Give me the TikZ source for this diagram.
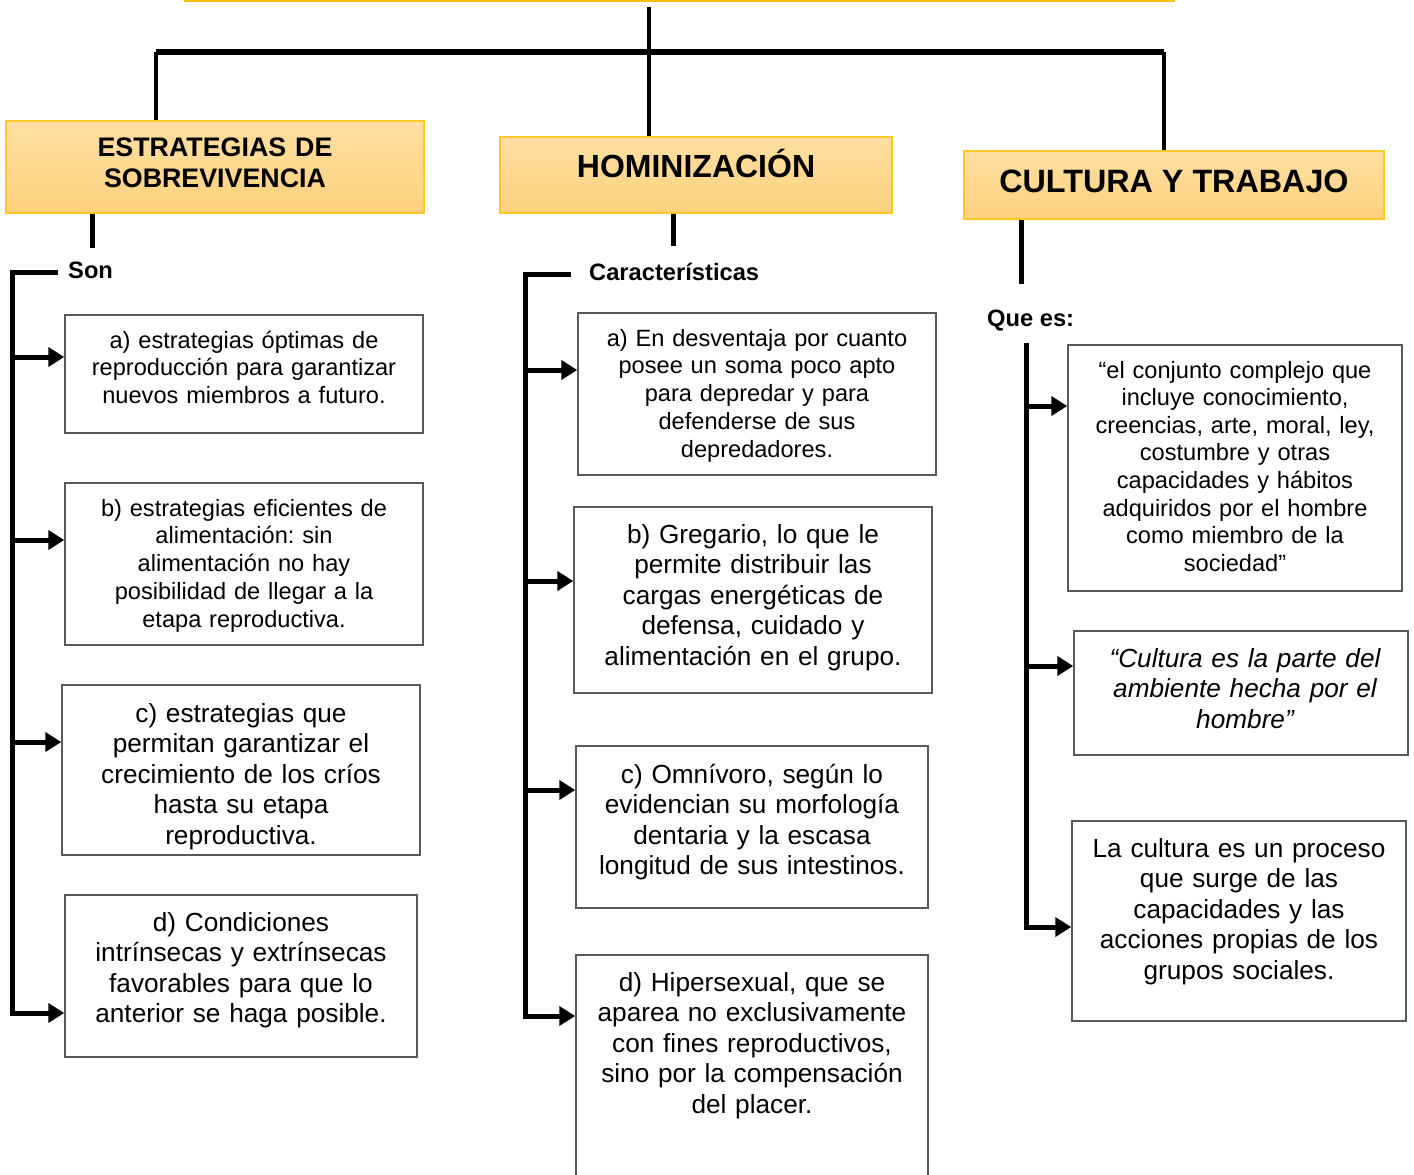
\documentclass[tikz,border=0pt]{standalone}
\usepackage{fontspec}
\setmainfont{Liberation Sans}
\usetikzlibrary{arrows.meta}
\frenchspacing
\definecolor{hdrtop}{HTML}{FEDFA2}
\definecolor{hdrbot}{HTML}{FCD17D}
\definecolor{hdrline}{HTML}{FFC828}
\definecolor{boxline}{HTML}{595959}
\definecolor{topline}{HTML}{FFC000}
\newcommand\fsz[2]{\fontsize{#1}{#2}\selectfont}
\tikzset{
  hdr/.style={rectangle, draw=hdrline, line width=1.5pt, top color=hdrtop, bottom color=hdrbot, inner sep=0pt},
  hdrtxt/.style={anchor=base, align=center, inner sep=0pt},
  cbox/.style={rectangle, draw=boxline, line width=1.5pt, inner sep=0pt},
  ctxt/.style={anchor=base, align=center, inner sep=0pt},
  small/.style={font=\fsz{23.6}{27.8}},
  big/.style={font=\fsz{26.2}{30.5}},
  thickbar/.style={line width=5pt, black},
  arr/.style={line width=5pt, black, -{Triangle[length=16pt,width=19pt]}},
  lbl/.style={anchor=base west, inner sep=0pt, font=\bfseries\fsz{23.7}{26}}
}
\begin{document}
\begin{tikzpicture}[x=1pt,y=-1pt]
\useasboundingbox (0,0) rectangle (1414,1175);
\draw[topline, line width=2pt] (184,1) -- (1175,1);

% headers
\node[hdr, minimum width=418pt, minimum height=92pt] (h1) at (215,167) {};
\node[hdrtxt, text width=410pt, font=\bfseries\fsz{26.8}{31}] (h1t) at (215,156) {ESTRATEGIAS DE\\SOBREVIVENCIA};
\node[hdr, minimum width=392pt, minimum height=76pt] (h2) at (696,175) {};
\node[hdrtxt, font=\bfseries\fsz{32}{36}] (h2t) at (696,177) {HOMINIZACIÓN};
\node[hdr, minimum width=420pt, minimum height=68pt] (h3) at (1174,185) {};
\node[hdrtxt, font=\bfseries\fsz{32.3}{36}] (h3t) at (1174,192) {CULTURA Y TRABAJO};

% top connectors
\coordinate (root) at (649,7);
\coordinate (barL) at (156,52);
\coordinate (barR) at (1164,52);
\draw[line width=4pt] (root) -- (h2.north -| root);
\draw[line width=6pt] (barL) -- (barR);
\draw[line width=4pt] (barL) -- (barL |- h1.north);
\draw[line width=4pt] (barR) -- (barR |- h3.north);

% stubs under headers
\coordinate (s1) at (92,248);
\coordinate (s2) at (673,246);
\coordinate (s3) at (1021,284);
\draw[line width=5pt] (s1 |- h1.south) -- (s1);
\draw[line width=5pt] (s2 |- h2.south) -- (s2);
\draw[line width=5pt] (s3 |- h3.south) -- (s3);

% labels
\node[lbl] (son) at (68,278) {Son};
\node[lbl] (car) at (589,280) {Características};
\node[lbl] (que) at (987,326) {Que es:};

% left boxes
\node[cbox, minimum width=358pt, minimum height=118pt] (la) at (244,374) {};
\node[ctxt, small, text width=354pt] (lat) at (244,348) {a) estrategias óptimas de\\reproducción para garantizar\\nuevos miembros a futuro.};
\node[cbox, minimum width=358pt, minimum height=162pt] (lb) at (244,564) {};
\node[ctxt, small, text width=354pt] (lbt) at (244,516) {b) estrategias eficientes de\\alimentación: sin\\alimentación no hay\\posibilidad de llegar a la\\etapa reproductiva.};
\node[cbox, minimum width=358pt, minimum height=170pt] (lc) at (241,770) {};
\node[ctxt, big, text width=354pt] (lct) at (241,722) {c) estrategias que\\permitan garantizar el\\crecimiento de los críos\\hasta su etapa\\reproductiva.};
\node[cbox, minimum width=352pt, minimum height=162pt] (ld) at (241,976) {};
\node[ctxt, big, text width=348pt] (ldt) at (241,931) {d) Condiciones\\intrínsecas y extrínsecas\\favorables para que lo\\anterior se haga posible.};

% middle boxes
\node[cbox, minimum width=358pt, minimum height=162pt] (ma) at (757,394) {};
\node[ctxt, small, text width=354pt] (mat) at (757,346) {a) En desventaja por cuanto\\posee un soma poco apto\\para depredar y para\\defenderse de sus\\depredadores.};
\node[cbox, minimum width=358pt, minimum height=186pt] (mb) at (753,600) {};
\node[ctxt, big, text width=354pt] (mbt) at (753,543) {b) Gregario, lo que le\\permite distribuir las\\cargas energéticas de\\defensa, cuidado y\\alimentación en el grupo.};
\node[cbox, minimum width=352pt, minimum height=162pt] (mc) at (752,827) {};
\node[ctxt, big, text width=348pt] (mct) at (752,783) {c) Omnívoro, según lo\\evidencian su morfología\\dentaria y la escasa\\longitud de sus intestinos.};
\node[cbox, minimum width=352pt, minimum height=240pt] (md) at (752,1075) {};
\node[ctxt, big, text width=348pt] (mdt) at (752,991) {d) Hipersexual, que se\\aparea no exclusivamente\\con fines reproductivos,\\sino por la compensación\\del placer.};

% right boxes
\node[cbox, minimum width=334pt, minimum height=246pt] (ra) at (1235,468) {};
\node[ctxt, font=\fsz{23.6}{27.6}, text width=332pt] (rat) at (1235,378) {“el conjunto complejo que\\incluye conocimiento,\\creencias, arte, moral, ley,\\costumbre y otras\\capacidades y hábitos\\adquiridos por el hombre\\como miembro de la\\sociedad”};
\node[cbox, minimum width=334pt, minimum height=124pt] (rb) at (1241,693) {};
\node[ctxt, font=\itshape\fsz{26.2}{30.5}, text width=332pt] (rbt) at (1245,667) {“Cultura es la parte del\\ambiente hecha por el\\hombre”};
\node[cbox, minimum width=334pt, minimum height=200pt] (rc) at (1239,921) {};
\node[ctxt, big, text width=332pt] (rct) at (1239,857) {La cultura es un proceso\\que surge de las\\capacidades y las\\acciones propias de los\\grupos sociales.};

% left bracket
\coordinate (ltop) at (58,272);
\coordinate (lcor) at (12,272);
\coordinate (l1) at (12,357);
\coordinate (l2) at (12,540);
\coordinate (l3) at (12,742);
\coordinate (l4) at (12,1013);
\draw[arr] (ltop) -- (lcor) -- (l4) -- (l4 -| ld.west);
\draw[arr] (l1) -- (l1 -| la.west);
\draw[arr] (l2) -- (l2 -| lb.west);
\draw[arr] (l3) -- (l3 -| lc.west);

% middle bracket
\coordinate (mtop) at (571,274);
\coordinate (mcor) at (525,274);
\coordinate (m1) at (525,370);
\coordinate (m2) at (525,581);
\coordinate (m3) at (525,790);
\coordinate (m4) at (525,1016);
\draw[arr] (mtop) -- (mcor) -- (m4) -- (m4 -| md.west);
\draw[arr] (m1) -- (m1 -| ma.west);
\draw[arr] (m2) -- (m2 -| mb.west);
\draw[arr] (m3) -- (m3 -| mc.west);

% right bracket
\coordinate (rtop) at (1026,343);
\coordinate (rbot) at (1026,930);
\coordinate (r1) at (1026,406);
\coordinate (r2) at (1026,666);
\coordinate (r3) at (1026,927);
\draw[thickbar] (rtop) -- (rbot);
\draw[arr] (r1) -- (r1 -| ra.west);
\draw[arr] (r2) -- (r2 -| rb.west);
\draw[arr] (r3) -- (r3 -| rc.west);
\end{tikzpicture}
\end{document}
